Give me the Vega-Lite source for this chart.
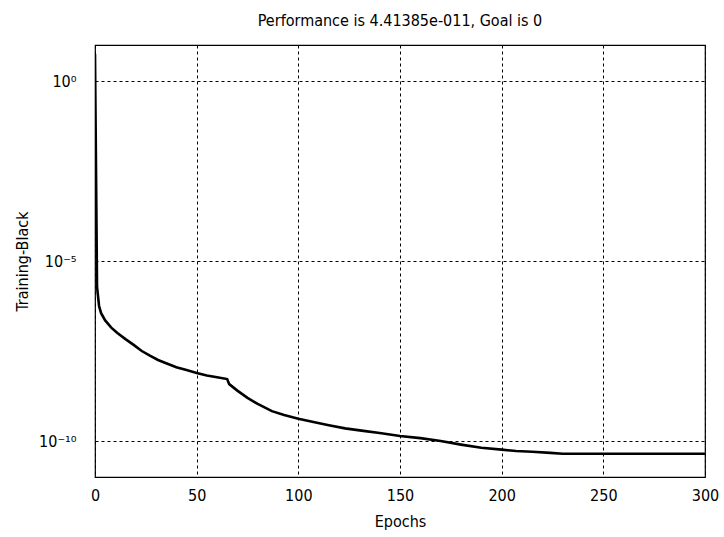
{
  "$schema": "https://vega.github.io/schema/vega-lite/v6.json",
  "width": 610,
  "height": 432,
  "autosize": {"type": "none"},
  "padding": {"left": 95, "top": 45, "right": 19, "bottom": 60},
  "background": "white",
  "title": {
    "text": "Performance is 4.41385e-011, Goal is 0",
    "font": "Liberation Sans Narrow, DejaVu Sans Condensed, Liberation Sans",
    "fontSize": 16,
    "fontWeight": "normal",
    "color": "black",
    "anchor": "middle",
    "offset": 16
  },
  "config": {
    "view": {"stroke": "black", "strokeWidth": 1.2},
    "axis": {
      "labelFont": "Liberation Sans Narrow, DejaVu Sans Condensed, Liberation Sans",
      "titleFont": "Liberation Sans Narrow, DejaVu Sans Condensed, Liberation Sans",
      "labelFontSize": 16,
      "titleFontSize": 16,
      "titleFontWeight": "normal",
      "labelColor": "black",
      "titleColor": "black",
      "domain": false,
      "ticks": false,
      "gridColor": "black",
      "gridOpacity": 1,
      "gridDash": [3, 3],
      "gridWidth": 1
    }
  },
  "data": {
    "values": [
      {"epoch": 0, "perf": 5.62},
      {"epoch": 1, "perf": 1.905e-6},
      {"epoch": 2, "perf": 5.62e-7},
      {"epoch": 3, "perf": 3.55e-7},
      {"epoch": 5, "perf": 2.24e-7},
      {"epoch": 8, "perf": 1.41e-7},
      {"epoch": 11, "perf": 1.0e-7},
      {"epoch": 15, "perf": 6.76e-8},
      {"epoch": 19, "perf": 4.68e-8},
      {"epoch": 23, "perf": 3.16e-8},
      {"epoch": 27, "perf": 2.34e-8},
      {"epoch": 31, "perf": 1.78e-8},
      {"epoch": 35, "perf": 1.45e-8},
      {"epoch": 40, "perf": 1.12e-8},
      {"epoch": 45, "perf": 9.33e-9},
      {"epoch": 50, "perf": 7.76e-9},
      {"epoch": 55, "perf": 6.61e-9},
      {"epoch": 60, "perf": 5.89e-9},
      {"epoch": 65, "perf": 5.25e-9},
      {"epoch": 66, "perf": 3.8e-9},
      {"epoch": 70, "perf": 2.51e-9},
      {"epoch": 75, "perf": 1.58e-9},
      {"epoch": 80, "perf": 1.07e-9},
      {"epoch": 87, "perf": 6.76e-10},
      {"epoch": 93, "perf": 5.25e-10},
      {"epoch": 100, "perf": 4.17e-10},
      {"epoch": 108, "perf": 3.31e-10},
      {"epoch": 115, "perf": 2.75e-10},
      {"epoch": 123, "perf": 2.24e-10},
      {"epoch": 132, "perf": 1.91e-10},
      {"epoch": 140, "perf": 1.66e-10},
      {"epoch": 150, "perf": 1.38e-10},
      {"epoch": 160, "perf": 1.2e-10},
      {"epoch": 170, "perf": 1.0e-10},
      {"epoch": 180, "perf": 7.94e-11},
      {"epoch": 190, "perf": 6.46e-11},
      {"epoch": 200, "perf": 5.75e-11},
      {"epoch": 207, "perf": 5.25e-11},
      {"epoch": 215, "perf": 5.01e-11},
      {"epoch": 224, "perf": 4.68e-11},
      {"epoch": 230, "perf": 4.41385e-11},
      {"epoch": 300, "perf": 4.41385e-11}
    ]
  },
  "mark": {"type": "line", "color": "black", "strokeWidth": 2.6, "clip": true},
  "encoding": {
    "x": {
      "field": "epoch",
      "type": "quantitative",
      "scale": {"domain": [0, 300], "nice": false, "zero": false},
      "axis": {
        "title": "Epochs",
        "values": [0, 50, 100, 150, 200, 250, 300],
        "labelPadding": 10,
        "titlePadding": 10,
        "labelFlush": false
      }
    },
    "y": {
      "field": "perf",
      "type": "quantitative",
      "scale": {"type": "log", "domain": [1e-11, 10], "nice": false},
      "axis": {
        "title": "Training-Black",
        "values": [1, 1e-5, 1e-10],
        "labelExpr": "datum.value >= 0.5 ? '10⁰' : datum.value > 1e-7 ? '10⁻⁵' : '10⁻¹⁰'",
        "labelPadding": 19,
        "titlePadding": 8,
        "labelFlush": false
      }
    }
  }
}
